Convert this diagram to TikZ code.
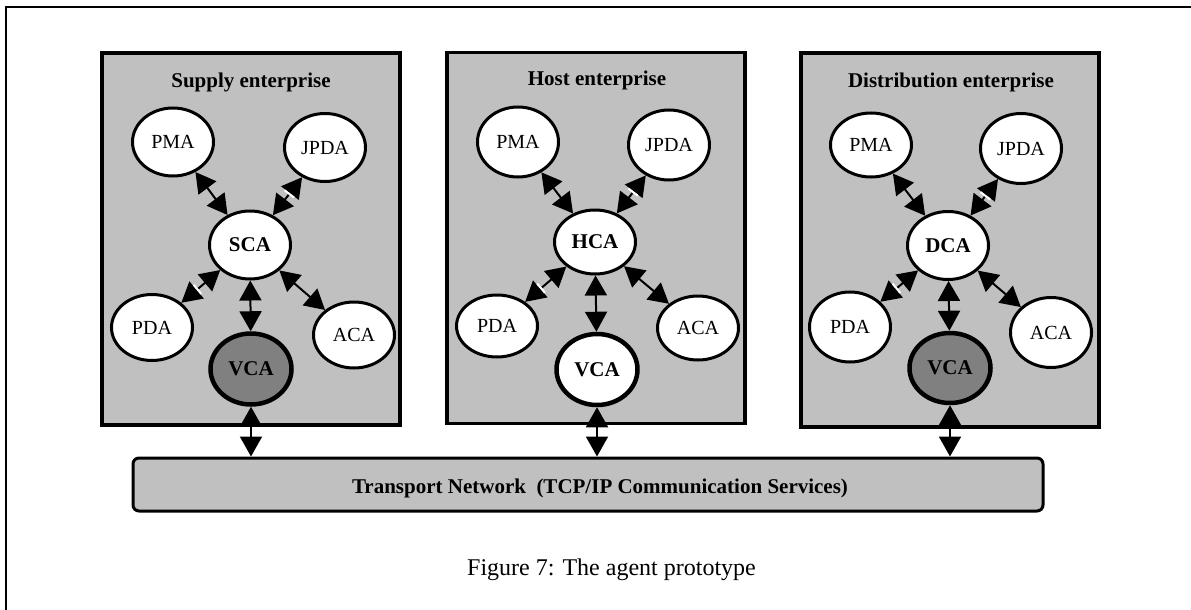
\documentclass[tikz,border=0pt]{standalone}
\usepackage{fontspec}
\setmainfont{Liberation Serif}
\usetikzlibrary{shapes.geometric,arrows.meta,decorations.markings}
\definecolor{boxgrey}{HTML}{C0C0C0}
\definecolor{vcagrey}{HTML}{808080}
\begin{document}
\begin{tikzpicture}[x=1pt,y=-1pt,
  frame/.style={line width=2pt},
  enterprise/.style={draw, line width=3.5pt, fill=boxgrey, minimum width=298pt, inner sep=0pt},
  boxtitle/.style={anchor=base, font=\bfseries\fontsize{21}{25}\selectfont},
  agent/.style={ellipse, draw, line width=3pt, fill=white, minimum width=81pt,
    minimum height=68pt, inner sep=0pt, font=\fontsize{20}{24}\selectfont},
  coord/.style={agent, font=\bfseries\fontsize{21}{25}\selectfont},
  vca/.style={coord, line width=4.5pt},
  link/.style={line width=2pt,
    {Triangle[length=20pt,width=22pt]}-{Triangle[length=20pt,width=22pt]}},
  ticked/.style={postaction={decorate}, decoration={markings,
    mark=at position 21pt with {\draw[white, line width=2pt, -] (0,-6pt) -- (0,6pt);}}},
  network/.style={draw, line width=3pt, fill=boxgrey, rounded corners=6pt,
    minimum width=910pt, minimum height=53pt, inner sep=0pt}
]
\useasboundingbox (0,0) rectangle (1191,610);

% page frame
\draw[frame] (5.7,610) -- (5.7,6.7) -- (1191,6.7);

% enterprises
\node[enterprise, minimum height=372pt] (supply) at (251,239) {};
\node[enterprise, minimum height=371pt] (host) at (596,238) {};
\node[enterprise, minimum height=374pt] (distrib) at (950,240) {};

\node[boxtitle] (supplyT) at (251,87.7) {Supply enterprise};
\node[boxtitle] (hostT) at (597,85.5) {Host enterprise};
\node[boxtitle] (distribT) at (951,88) {Distribution enterprise};

% supply enterprise agents
\node[agent] (sPMA) at (173,142) {PMA};
\node[agent] (sJPDA) at (325,147.5) {JPDA};
\node[coord] (sSCA) at (250,245) {SCA};
\node[agent, minimum height=66pt] (sPDA) at (152,327.5) {PDA};
\node[agent, minimum height=66pt] (sACA) at (354,335) {ACA};
\node[vca, fill=vcagrey, minimum height=71pt] (sVCA) at (251,369) {VCA};

% host enterprise agents
\node[agent, minimum height=70pt] (hPMA) at (518,142) {PMA};
\node[agent, minimum height=70pt] (hJPDA) at (669,145) {JPDA};
\node[coord, minimum height=64pt] (hHCA) at (595,242) {HCA};
\node[agent, minimum height=62pt] (hPDA) at (497,326) {PDA};
\node[agent, minimum height=64pt] (hACA) at (698,328) {ACA};
\node[vca, minimum height=71pt] (hVCA) at (597,369.5) {VCA};

% distribution enterprise agents
\node[agent, minimum height=64pt] (dPMA) at (871,145) {PMA};
\node[agent, minimum height=70pt] (dJPDA) at (1021,148.5) {JPDA};
\node[coord] (dDCA) at (948,245.5) {DCA};
\node[agent, minimum height=70pt] (dPDA) at (850,327) {PDA};
\node[agent, minimum height=70pt] (dACA) at (1051,332.5) {ACA};
\node[vca, fill=vcagrey, minimum height=70pt] (dVCA) at (950,368) {VCA};

% links inside each enterprise
\foreach \e/\c in {s/sSCA, h/hHCA, d/dDCA}{
  \draw[link] (\e PMA) -- (\c);
  \draw[link, ticked] (\e JPDA) -- (\c);
  \draw[link, ticked] (\e PDA) -- (\c);
  \draw[link] (\e ACA) -- (\c);
  \draw[link] (\c) -- (\e VCA);
}

% transport network
\node[network] (net) at (588,484.5) {};
\node[anchor=base, font=\bfseries\fontsize{21}{25}\selectfont] (netlabel) at (600,493.3)
  {Transport Network\hspace{0.5em}(TCP/IP Communication Services)};

\draw[link] (sVCA) -- (sVCA |- net.north);
\draw[link] (hVCA) -- (hVCA |- net.north);
\draw[link] (dVCA) -- (dVCA |- net.north);

% caption
\node[anchor=base, font=\fontsize{24}{28}\selectfont] (caption) at (611.5,575)
  {Figure 7: The agent prototype};
\end{tikzpicture}
\end{document}
